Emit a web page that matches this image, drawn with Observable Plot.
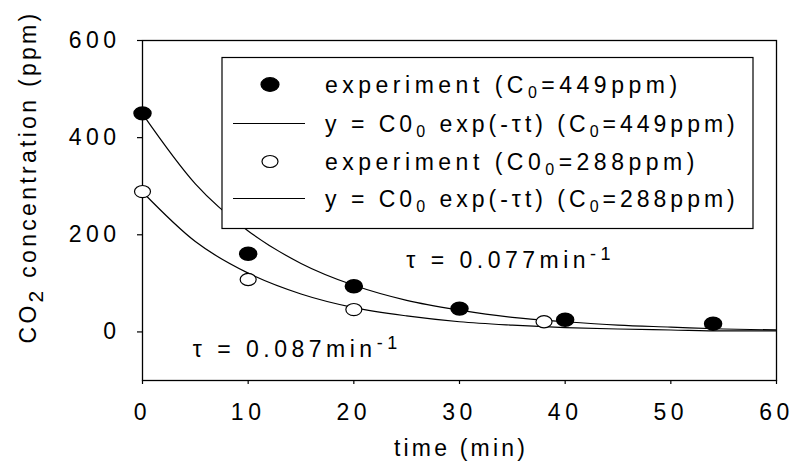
<!DOCTYPE html>
<html><head><meta charset="utf-8">
<script src="https://cdn.jsdelivr.net/npm/d3@7"></script>
<script src="https://cdn.jsdelivr.net/npm/@observablehq/plot@0.6"></script>
<style>
body{margin:0;background:#fff;}
#chart{width:793px;height:468px;}
</style></head><body><div id="chart"></div>
<script>
// ---- data ----
const expTime449 = [0, 10, 20, 30, 40, 54];
const expConc449 = [450, 161, 94, 48, 25, 17];
const expTime288 = [0, 10, 20, 38];
const expConc288 = [289, 108, 46, 21];
const fitTime    = [0, 5, 10, 15, 20, 25, 30, 35, 40, 45, 50, 55, 60];
const fitConc449 = [449, 305, 208, 141, 96, 65, 45, 30, 21, 14, 10, 6, 4];
const fitConc288 = [288, 186, 121, 78, 50, 33, 21, 14, 9, 6, 4, 2, 2];
const xTicks = [0, 10, 20, 30, 40, 50, 60];
const yTicks = [0, 200, 400, 600];
const legendRows = [
  {sym: "filled", parts: [["experiment (C"], ["0", 1], ["=449ppm)"]]},
  {sym: "line",   parts: [["y = C0"], ["0", 1], [" exp(-τt) (C"], ["0", 1], ["=449ppm)"]]},
  {sym: "open",   parts: [["experiment (C0"], ["0", 1], ["=288ppm)"]]},
  {sym: "line",   parts: [["y = C0"], ["0", 1], [" exp(-τt) (C"], ["0", 1], ["=288ppm)"]]}
];
const annotations = [
  {t: 25, v: 131, text: "τ = 0.077min", sup: "-1"},
  {t: 4.8, v: -52, text: "τ = 0.087min", sup: "-1"}
];

const exp449 = expTime449.map((t, i) => ({t, c: expConc449[i]}));
const exp288 = expTime288.map((t, i) => ({t, c: expConc288[i]}));
const fit449 = fitTime.map((t, i) => ({t, c: fitConc449[i]}));
const fit288 = fitTime.map((t, i) => ({t, c: fitConc288[i]}));

function ellipsePath(ctx, rx, ry, cx = 0, cy = 0) {
  const k = 0.5523;
  ctx.moveTo(cx + rx, cy);
  ctx.bezierCurveTo(cx + rx, cy + ry * k, cx + rx * k, cy + ry, cx, cy + ry);
  ctx.bezierCurveTo(cx - rx * k, cy + ry, cx - rx, cy + ry * k, cx - rx, cy);
  ctx.bezierCurveTo(cx - rx, cy - ry * k, cx - rx * k, cy - ry, cx, cy - ry);
  ctx.bezierCurveTo(cx + rx * k, cy - ry, cx + rx, cy - ry * k, cx + rx, cy);
  ctx.closePath();
}
const ellipse = {draw(ctx, size) { const r = Math.sqrt(size / Math.PI); ellipsePath(ctx, r, r * 0.76); }};

const FONT = '"Liberation Sans", Arial, Helvetica, sans-serif';

const plot = Plot.plot({
  width: 793, height: 468,
  marginLeft: 142, marginRight: 17, marginTop: 40, marginBottom: 88,
  style: {fontFamily: FONT, fontSize: "23px", letterSpacing: "4.5px", color: "#000", background: "#fff"},
  x: {domain: [0, 60], label: null},
  y: {domain: [-100, 600], label: null},
  marks: [
    Plot.frame({stroke: "#000", strokeWidth: 1.3}),
    Plot.axisX({ticks: xTicks, tickSize: 4, tickPadding: 19, label: null, strokeWidth: 1.2}),
    Plot.axisY({ticks: yTicks, tickSize: 5, tickPadding: 17, label: null, strokeWidth: 1.2}),
    Plot.line(fit449, {x: "t", y: "c", curve: "monotone-x", stroke: "#000", strokeWidth: 1.2}),
    Plot.line(fit288, {x: "t", y: "c", curve: "monotone-x", stroke: "#000", strokeWidth: 1.2}),
    Plot.dot(exp449, {x: "t", y: "c", r: 8.5, symbol: ellipse, fill: "#000", stroke: "#000"}),
    Plot.dot(exp288, {x: "t", y: "c", r: 8, symbol: ellipse, fill: "#fff", stroke: "#000", strokeWidth: 1.2})
  ]
});
document.getElementById("chart").append(plot);

const svg = d3.select(plot);
const xs = plot.scale("x"), ys = plot.scale("y");
const g = svg.append("g").attr("font-family", FONT).attr("fill", "#000").attr("text-anchor", "start")
  .style("letter-spacing", "4.5px").style("white-space", "pre");

// axis titles
const xr = xs.range;
g.append("text").attr("x", (xr[0] + xr[1]) / 2 + 2).attr("y", 456).attr("text-anchor", "middle")
  .attr("font-size", 23).style("letter-spacing", "3.2px").text("time (min)");
const yt = g.append("text").attr("transform", "translate(36,177) rotate(-90)").attr("text-anchor", "middle")
  .attr("font-size", 23).style("letter-spacing", "3.3px");
yt.append("tspan").text("CO");
yt.append("tspan").attr("font-size", 21).attr("dy", 7).text("2");
yt.append("tspan").attr("dy", -7).text(" concentration (ppm)");

// annotations
for (const a of annotations) {
  const t = g.append("text").attr("x", xs.apply(a.t)).attr("y", ys.apply(a.v)).attr("font-size", 23);
  t.append("tspan").text(a.text);
  t.append("tspan").attr("font-size", 18).attr("dy", -8).text(a.sup);
}

// legend
const L = {x: 222, y: 57.5, w: 531, h: 171};
g.append("rect").attr("x", L.x).attr("y", L.y).attr("width", L.w).attr("height", L.h)
  .attr("fill", "#fff").attr("stroke", "#000").attr("stroke-width", 1.2);
const baselines = [93, 132, 170, 207];
legendRows.forEach((row, i) => {
  const b = baselines[i], cy = b - 8.5;
  if (row.sym === "line") {
    g.append("line").attr("x1", 233).attr("x2", 305).attr("y1", cy).attr("y2", cy).attr("stroke", "#000").attr("stroke-width", 1.2);
  } else {
    const p = d3.path();
    if (row.sym === "filled") ellipsePath(p, 9, 6.8, 270, cy);
    else ellipsePath(p, 8, 6, 270, cy);
    g.append("path").attr("d", p.toString())
      .attr("fill", row.sym === "filled" ? "#000" : "#fff").attr("stroke", "#000").attr("stroke-width", 1.2);
  }
  const t = g.append("text").attr("x", 325).attr("y", b).attr("font-size", 23)
    .style("letter-spacing", row.sym === "line" ? "4px" : "4.5px");
  let shifted = false;
  for (const [s, sub] of row.parts) {
    const sp = t.append("tspan").text(s);
    if (sub) { sp.attr("font-size", 16).attr("dy", 5); shifted = true; }
    else if (shifted) { sp.attr("dy", -5); shifted = false; }
  }
});
</script>
</body></html>
